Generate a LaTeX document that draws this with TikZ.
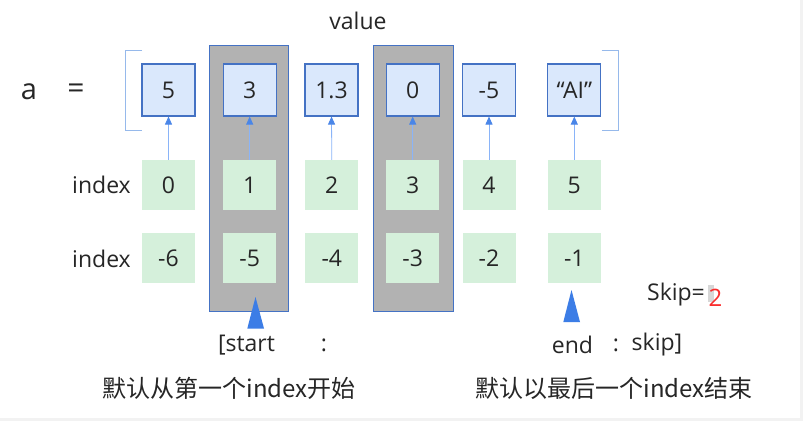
\documentclass[tikz,border=0pt]{standalone}
\usepackage{fontspec}
\setmainfont{Open Sans}
\newfontfamily\cjk{Noto Sans CJK SC}
\usetikzlibrary{arrows.meta}
\definecolor{valfill}{RGB}{218,232,252}
\definecolor{valdraw}{RGB}{68,114,196}
\definecolor{idxfill}{RGB}{213,240,219}
\definecolor{grayfill}{RGB}{178,178,178}
\definecolor{arrline}{RGB}{138,180,248}
\definecolor{arrhead}{RGB}{74,134,232}
\definecolor{trifill}{RGB}{60,125,230}
\definecolor{brkcol}{RGB}{150,185,235}
\definecolor{skipred}{RGB}{250,45,45}
\definecolor{edgegray}{RGB}{242,242,242}
\definecolor{hlgray}{RGB}{215,215,215}
\tikzset{
  txt/.style={inner sep=0pt, font=\fontsize{23}{27}\selectfont, text=black!85},
  valbox/.style={rectangle, minimum width=53pt, minimum height=52pt, fill=valfill, draw=valdraw, line width=1.1pt, inner sep=0pt, font=\fontsize{23}{27}\selectfont, text=black!85},
  idxbox/.style={rectangle, minimum width=53pt, minimum height=50pt, fill=idxfill, inner sep=0pt, font=\fontsize{23}{27}\selectfont, text=black!85},
  grayband/.style={fill=grayfill, draw=valdraw, line width=0.8pt},
  ptr/.style={draw=arrline, line width=0.8pt, -{Triangle[width=7pt,length=8pt,color=arrhead]}},
  brk/.style={draw=brkcol, line width=0.8pt},
  tri/.style={fill=trifill, draw=none},
  cjktxt/.style={inner sep=0pt, font=\cjk\fontsize{24}{28}\selectfont, text=black!85}
}
\begin{document}
\begin{tikzpicture}[x=1pt,y=-1pt]
\fill[edgegray] (0,0) rectangle (803,421);
\fill[white] (0,0) rectangle (800,418);
\useasboundingbox (0,0) rectangle (803,421);

% gray selection bands
\draw[grayband] (209,45) rectangle (288,311);
\draw[grayband] (373,45) rectangle (453.5,311);

% labels
\node[txt, font=\fontsize{29}{33}\selectfont] (a) at (29,92) {a};
\node[txt, font=\fontsize{30}{34}\selectfont] (eq) at (76,91) {=};
\node[txt] (value) at (358,21) {value};
\node[txt] (idxl1) at (101.5,185) {index};
\node[txt] (idxl2) at (101.5,259) {index};

% brackets
\draw[brk] (142,50.5) -- (125.5,50.5) -- (125.5,130) -- (142,130);
\draw[brk] (601.5,50.5) -- (618,50.5) -- (618,130) -- (601.5,130);

% value boxes
\node[valbox] (v0) at (168.5,90) {5};
\node[valbox] (v1) at (249.7,90) {3};
\node[valbox] (v2) at (331.5,90) {1.3};
\node[valbox] (v3) at (412.7,90) {0};
\node[valbox] (v4) at (489,90) {-5};
\node[valbox] (v5) at (574.3,90) {“AI”};

% positive index
\node[idxbox] (p0) at (168.5,185) {0};
\node[idxbox] (p1) at (249.7,185) {1};
\node[idxbox] (p2) at (331.8,185) {2};
\node[idxbox] (p3) at (412.7,185) {3};
\node[idxbox] (p4) at (489,185) {4};
\node[idxbox] (p5) at (574.3,185) {5};

% negative index
\node[idxbox] (n0) at (168.5,258) {-6};
\node[idxbox] (n1) at (249.7,258) {-5};
\node[idxbox] (n2) at (331.8,258) {-4};
\node[idxbox] (n3) at (412.7,258) {-3};
\node[idxbox] (n4) at (489,258) {-2};
\node[idxbox] (n5) at (574.3,258) {-1};

% pointers
\foreach \i in {0,...,5} {
  \draw[ptr] (p\i.north) -- (v\i.south);
}

% triangles
\coordinate (t1) at (255.5,297);
\coordinate (t2) at (571.5,290);
\fill[tri] (t1) -- (247.3,328.5) -- (264,328.5) -- cycle;
\fill[tri] (t2) -- (563.3,322) -- (580,322) -- cycle;

% slice text
\node[txt] (start) at (246.5,345) {[start};
\node[txt] (c1) at (324,345) {:};
\node[txt] (end) at (572.5,345) {end};
\node[txt] (c2) at (616,345) {:};
\node[txt] (skip) at (657,345) {skip]};
\node[txt] (skipeq) at (676,295) {Skip=};
\fill[hlgray] (708,285) rectangle (714,302);
\node[txt, text=skipred, font=\fontsize{24}{28}\selectfont] (two) at (715.5,298) {2};

% captions
\node[cjktxt] (cap1) at (229,388) {默认从第一个index开始};
\node[cjktxt] (cap2) at (614,388) {默认以最后一个index结束};
\end{tikzpicture}
\end{document}
